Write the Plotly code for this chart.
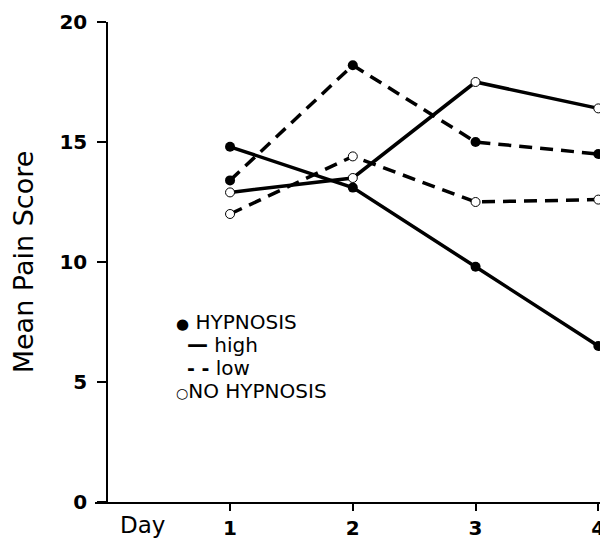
import plotly.graph_objects as go

days = [1, 2, 3, 4]
hyp_high = [14.8, 13.1, 9.8, 6.5]
hyp_low = [13.4, 18.2, 15.0, 14.5]
nohyp_high = [12.9, 13.5, 17.5, 16.4]
nohyp_low = [12.0, 14.4, 12.5, 12.6]

y_ticks = [0, 5, 10, 15, 20]
x_ticks = [1, 2, 3, 4]

# legend lines: (text, x, y) in data units
legend_items = [
    ("<span style='font-size:15px'>●</span> HYPNOSIS", 0.55, 7.5),
    ("<span style='font-size:21px'><b>—</b></span> high", 0.64, 6.54),
    ("<span style='font-size:19px'><b>- -</b></span> low", 0.64, 5.58),
    ("<span style='font-size:14px'>○</span>NO HYPNOSIS", 0.55, 4.625),
]

fig = go.Figure()

def add(y, dash, filled, name):
    fig.add_trace(go.Scatter(
        x=days, y=y, mode="lines+markers", name=name,
        line=dict(color="black", width=3.5, dash=dash),
        marker=dict(size=10 if filled else 9,
                    color="black" if filled else "white",
                    line=dict(color="black", width=0 if filled else 1)),
        showlegend=False, cliponaxis=False))

add(hyp_high, "solid", True, "Hypnosis high")
add(hyp_low, "13px,8px", True, "Hypnosis low")
add(nohyp_high, "solid", False, "No hypnosis high")
add(nohyp_low, "13px,8px", False, "No hypnosis low")

fam = "DejaVu Sans, sans-serif"

for txt, xx, yy in legend_items:
    fig.add_annotation(x=xx, y=yy, text=txt, showarrow=False, xanchor="left",
                       borderpad=0,
                       font=dict(family=fam, size=20, color="black"))

fig.add_annotation(x=0.29, y=0, text="Day", showarrow=False, yanchor="middle",
                   yshift=-23, font=dict(family=fam, size=23, color="black"))

fig.update_layout(
    width=600, height=533,
    margin=dict(l=87, r=6, t=14, b=39, autoexpand=False),
    paper_bgcolor="white", plot_bgcolor="white",
    xaxis=dict(range=[-0.1, 4.03], tickvals=x_ticks, ticks="outside", ticklen=7,
               tickwidth=1.5, tickcolor="black", automargin=False,
               showline=True, linecolor="black", linewidth=2, showgrid=False,
               zeroline=False,
               tickfont=dict(family=fam, size=20, color="black", weight="bold")),
    yaxis=dict(range=[0, 20], tickvals=y_ticks, ticks="outside", ticklen=9,
               tickwidth=1.5, tickcolor="black", anchor="free", position=0.1 / 4.13,
               automargin=False, ticklabelstandoff=6,
               showline=True, linecolor="black", linewidth=2, showgrid=False,
               zeroline=False,
               tickfont=dict(family=fam, size=20, color="black", weight="bold"),
               title=dict(text="Mean Pain Score", standoff=22,
                          font=dict(family=fam, size=27, color="black"))),
)

fig.write_html("out.html")
